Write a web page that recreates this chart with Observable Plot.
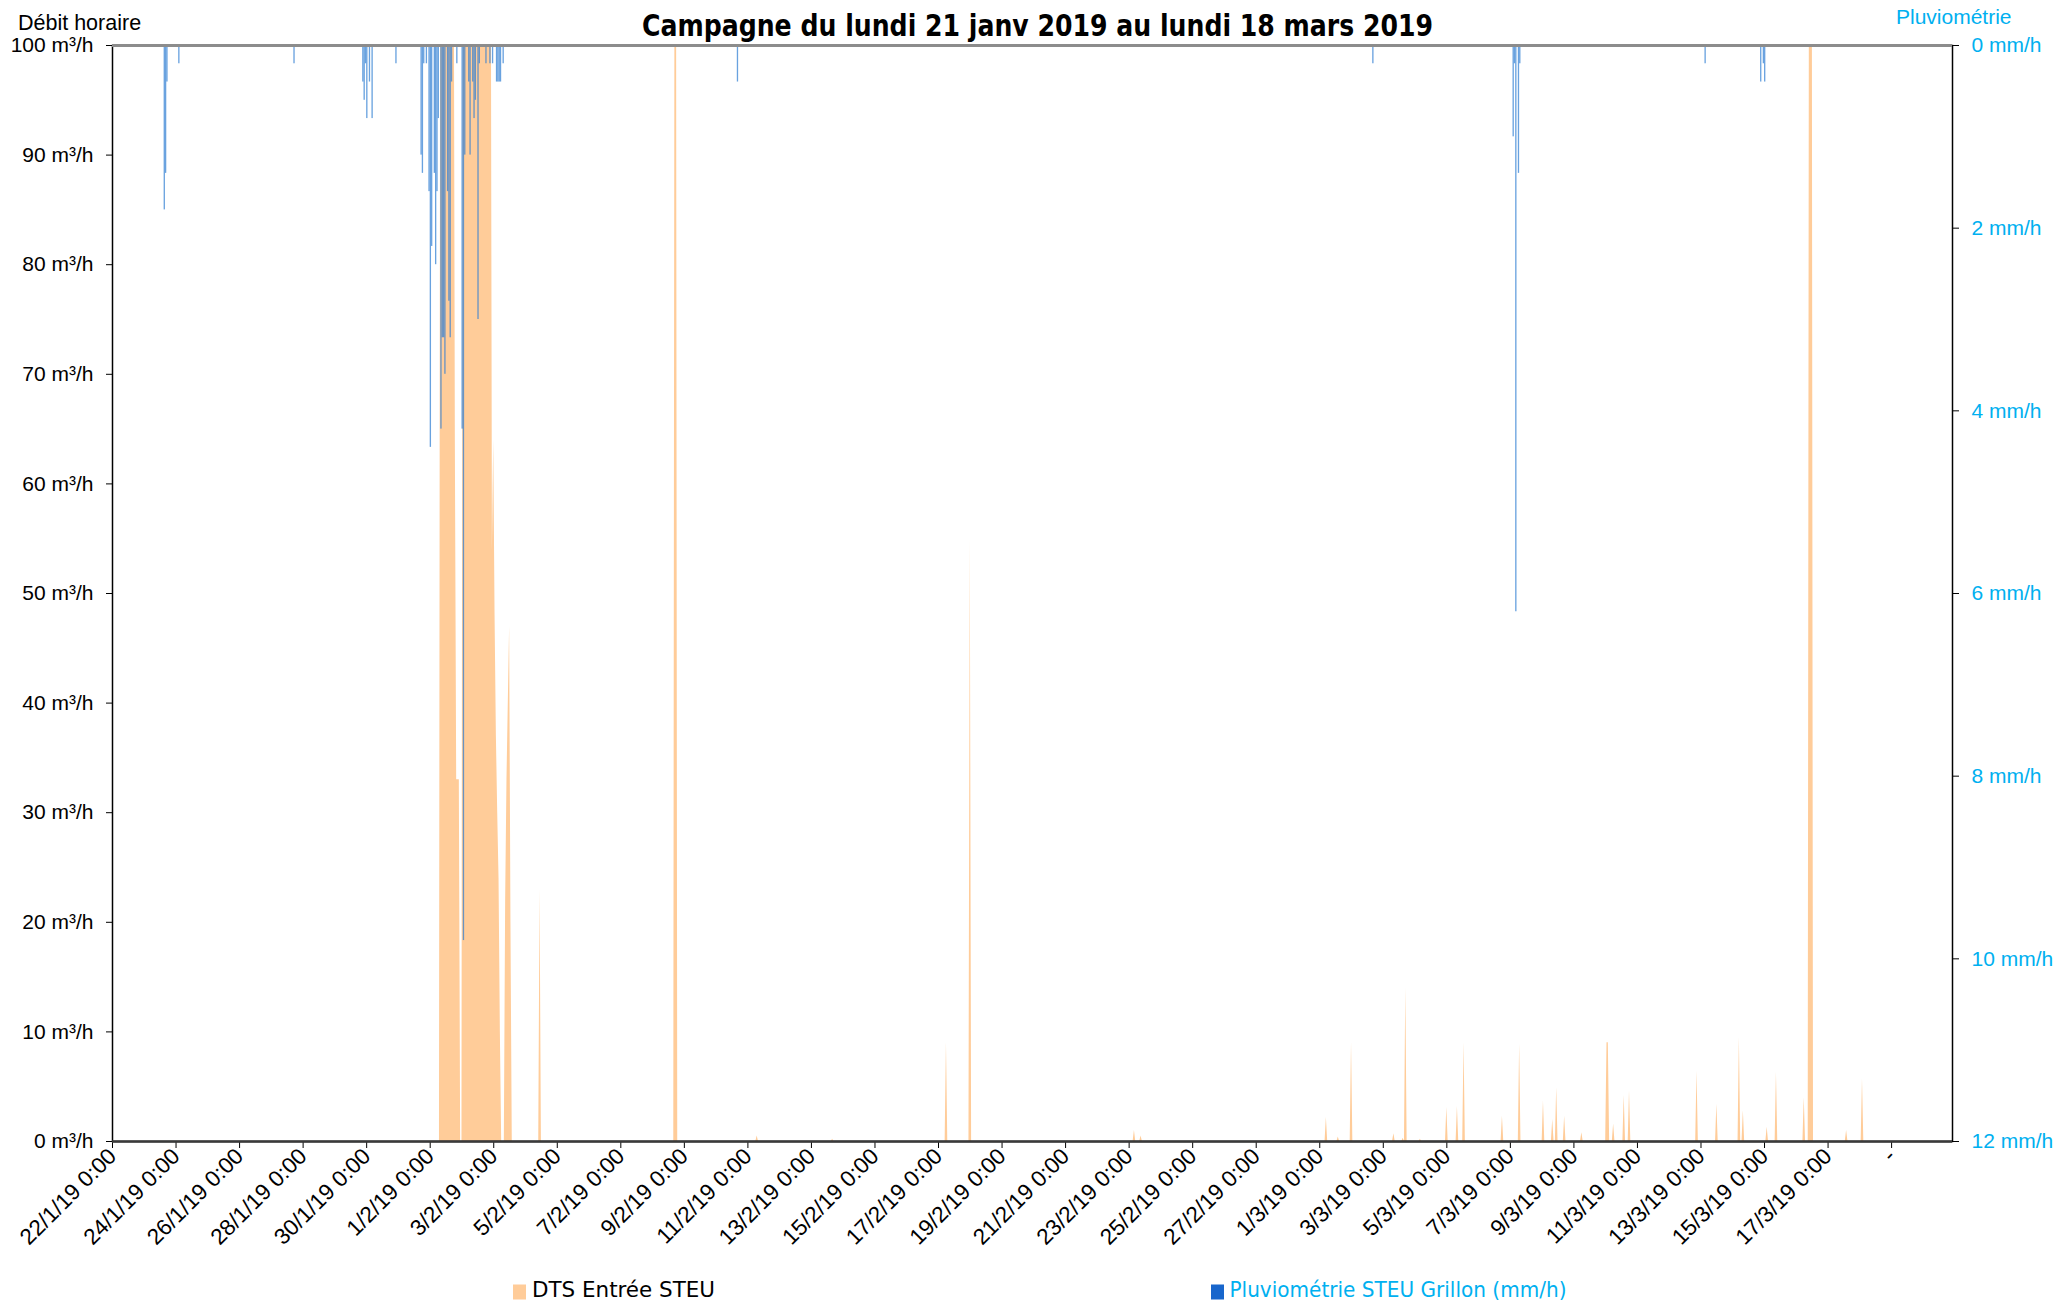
<!DOCTYPE html>
<html lang="fr">
<head>
<meta charset="utf-8">
<title>DTS Entrée STEU – Pluviométrie STEU Grillon</title>
<script src="https://cdn.jsdelivr.net/npm/d3@7"></script>
<script src="https://cdn.jsdelivr.net/npm/@observablehq/plot@0.6"></script>
<style>
  html, body { margin: 0; padding: 0; background: #fff; }
  #page { position: relative; width: 2058px; height: 1302px; overflow: hidden; font-family: "Liberation Sans", Arial, sans-serif; }
  #page .layer { position: absolute; left: 0; }
  #header { top: 0; z-index: 3; overflow: visible; }
  #chart { top: 34px; width: 2058px; height: 1228px; }
  #chart svg { position: absolute; left: 0; top: 0; }
  #legend { top: 1262px; }
</style>
</head>
<body>
<div id="page">
  <svg id="header" class="layer" width="2058" height="46">
    <text x="18" y="29.5" font-size="21.5" font-family="'Liberation Sans', Arial, sans-serif" fill="#000">Débit horaire</text>
    <text x="1037.5" y="36" text-anchor="middle" font-weight="bold" font-size="31"
          font-family="'Liberation Sans Narrow', 'DejaVu Sans Condensed', 'Liberation Sans', sans-serif"
          textLength="791" lengthAdjust="spacingAndGlyphs" fill="#000">Campagne du lundi 21 janv 2019 au lundi 18 mars 2019</text>
    <text x="1896" y="24" font-size="21" font-family="'Liberation Sans', Arial, sans-serif" fill="#00B0F0">Pluviométrie</text>
  </svg>
  <div id="chart" class="layer"></div>
  <svg id="legend" class="layer" width="2058" height="40">
    <rect x="513" y="22.5" width="13" height="15" fill="#FFCC99"></rect>
    <text x="532" y="34.5" font-size="22" font-family="'Liberation Sans Narrow', 'DejaVu Sans Condensed', 'Liberation Sans', sans-serif"
          textLength="183" lengthAdjust="spacingAndGlyphs" fill="#000">DTS Entrée STEU</text>
    <rect x="1211" y="22.5" width="13" height="15" fill="#1866CC"></rect>
    <text x="1229.5" y="34.5" font-size="22" font-family="'Liberation Sans Narrow', 'DejaVu Sans Condensed', 'Liberation Sans', sans-serif"
          textLength="337" lengthAdjust="spacingAndGlyphs" fill="#00B0F0">Pluviométrie STEU Grillon (mm/h)</text>
  </svg>
</div>
<script>
// ---------------- DATA ----------------
const startISO = "2019-01-22T00:00:00Z";   // x-axis start
const endISO   = "2019-03-20T22:00:00Z";   // x-axis end

// DTS Entrée STEU – hourly flow (m³/h) : [hours since 22/1/19 0:00, value]
const flowFeb = [
  [0,0],[247,0],[248,120],[258,120],[259,64],[260,33],[262,33],[263,0],
  [264,0],[265,120],[286,120],[287,54],[288,64],[289,48],[290,37],[291,30],[292,24],[293,10],[294,0],
  [296,0],[297,22],[298,33],[299,40],[300,47],[301,20],[302,0],
  [322,0],[323,23],[324,0],
  [424,0],[425,120],[426,120],[427,0],
  [486,0],[487,0.5],[488,0],
  [543,0],[544,0.2],[545,0],
  [629,0],[630,9],[631,0],
  [647,0],[648,55],[649,0],
  [771,0],[772,1],[773,0],[776,0],[777,0.5],[778,0]
];
const flowMar = [
  [916,0],[917,2.2],[918,0],[925,0],[926,0.4],[927,0],[935,0],[936,9],[937,0],
  [967,0],[968,0.7],[969,0],[974,0],[975,0.3],[976,0],[977,14],[978,0],[987,0],[988,0.2],[989,0],
  [1007,0],[1008,3.1],[1009,0],[1015,0],[1016,3.2],[1017,0],[1020,0],[1021,9],[1022,0],
  [1049,0],[1050,2.3],[1051,0],[1062,0],[1063,8.9],[1064,0],
  [1080,0],[1081,3.7],[1082,0],[1087,0],[1088,2],[1089,0],[1090,0],[1091,4.9],[1092,0],[1096,0],[1097,2.3],[1098,0],
  [1109,0],[1110,0.8],[1111,0],[1128,0],[1129,9],[1130,9],[1131,0],[1133,0],[1134,1.6],[1135,0],
  [1141,0],[1142,4.2],[1143,0],[1145,0],[1146,4.6],[1147,0],
  [1196,0],[1197,6.4],[1198,0],[1211,0],[1212,3.4],[1213,0],[1228,0],[1229,9.5],[1230,0],[1231,0],[1232,2.8],[1233,0],
  [1249,0],[1250,1.3],[1251,0],[1256,0],[1257,6.3],[1258,0],[1277,0],[1278,4],[1279,0],
  [1281,0],[1282,120],[1283,120],[1284,120],[1285,0],
  [1309,0],[1310,1],[1311,0],[1321,0],[1322,5.7],[1323,0],[1340,0]
];

// Pluviométrie STEU Grillon (mm/h) : [hours since 22/1/19 0:00, value]
const rainJanFeb = [
  [39,1.8],[40,1.4],[41,0.4],[50,0.2],[137,0.2],[189,0.4],[190,0.6],[191,0.2],[192,0.8],[194,0.4],[196,0.8],[214,0.2],
  [233,1.2],[234,1.4],[235,0.2],[237,0.2],[239,1.6],[240,4.4],[241,2.2],[243,1.4],[244,2.4],[245,1.6],[246,0.8],
  [248,4.2],[249,3.2],[250,3.2],[251,3.6],[253,1.6],[254,2.8],[255,3.2],[256,0.4],[260,0.2],
  [264,4.2],[265,9.8],[266,1.2],[269,0.4],[270,1.2],[272,0.4],[273,0.8],[274,0.6],[276,3.0],[277,0.2],
  [282,0.2],[285,0.2],[287,0.2],[290,0.4],[291,0.4],[292,0.4],[293,0.4],[295,0.2],[472,0.4]
];
const rainMar = [
  [952,0.2],[1058,1.0],[1059,0.2],[1060,6.2],[1062,1.4],[1063,0.2],[1203,0.2],[1245,0.4],[1247,0.2],[1248,0.4]
];

// Axis ticks
const flowTicks = [0,10,20,30,40,50,60,70,80,90,100];
const rainTicks = [0,2,4,6,8,10,12];
const xTickDates = ["2019-01-22","2019-01-24","2019-01-26","2019-01-28","2019-01-30","2019-02-01","2019-02-03",
  "2019-02-05","2019-02-07","2019-02-09","2019-02-11","2019-02-13","2019-02-15","2019-02-17","2019-02-19",
  "2019-02-21","2019-02-23","2019-02-25","2019-02-27","2019-03-01","2019-03-03","2019-03-05","2019-03-07",
  "2019-03-09","2019-03-11","2019-03-13","2019-03-15","2019-03-17","2019-03-19"];
const xTickLabels = ["22/1/19 0:00","24/1/19 0:00","26/1/19 0:00","28/1/19 0:00","30/1/19 0:00","1/2/19 0:00","3/2/19 0:00",
  "5/2/19 0:00","7/2/19 0:00","9/2/19 0:00","11/2/19 0:00","13/2/19 0:00","15/2/19 0:00","17/2/19 0:00","19/2/19 0:00",
  "21/2/19 0:00","23/2/19 0:00","25/2/19 0:00","27/2/19 0:00","1/3/19 0:00","3/3/19 0:00","5/3/19 0:00","7/3/19 0:00",
  "9/3/19 0:00","11/3/19 0:00","13/3/19 0:00","15/3/19 0:00","17/3/19 0:00","-"];

// ---------------- BUILD ----------------
const t0 = Date.parse(startISO);
const hourToDate = h => new Date(t0 + h * 3600e3);
const flow = flowFeb.concat(flowMar).map(([h, v]) => ({t: hourToDate(h), v}));
const rain = rainJanFeb.concat(rainMar).map(([h, v]) => ({t: hourToDate(h), t2: hourToDate(h + 1), v}));
const xTicks = xTickDates.map(s => new Date(s + "T00:00:00Z"));
const labelOf = new Map(xTicks.map((d, i) => [+d, xTickLabels[i]]));

const common = {
  width: 2058, height: 1228,
  marginTop: 11, marginBottom: 121, marginLeft: 112, marginRight: 106,
  style: {background: "transparent", fontFamily: "'Liberation Sans', Arial, sans-serif", fontSize: "20px", color: "#000"}
};
const xDomain = [new Date(startISO), new Date(endISO)];

const flowPlot = Plot.plot({
  ...common,
  x: {type: "utc", domain: xDomain},
  y: {domain: [0, 100]},
  marks: [
    Plot.areaY(flow, {x: "t", y: "v", fill: "#FFCC99", clip: true}),
    Plot.axisY({ticks: flowTicks, tickFormat: d => `${d} m³/h`, tickSize: 6, tickPadding: 13, label: null, fontSize: 21}),
    Plot.axisX({ticks: xTicks, tickFormat: d => labelOf.get(+d), tickRotate: -45, tickSize: 7, tickPadding: 4, label: null, fontSize: 22.5}),
    Plot.frame({stroke: "#000", strokeWidth: 1.5}),
    Plot.ruleY([0], {stroke: "#3a3a3a", strokeWidth: 2.5})
  ]
});

const rainPlot = Plot.plot({
  ...common,
  x: {type: "utc", domain: xDomain, axis: null},
  y: {domain: [0, 12], reverse: true},
  marks: [
    Plot.rectY(rain, {x1: "t", x2: "t2", y1: 0, y2: "v", fill: "#2F7ED3", fillOpacity: 0.72}),
    Plot.ruleY([0], {stroke: "#8c8c8c", strokeWidth: 3}),
    Plot.axisY({anchor: "right", ticks: rainTicks, tickFormat: d => `${d} mm/h`, tickSize: 6, tickPadding: 13,
                label: null, color: "#00B0F0", fontSize: 21})
  ]
});

const chart = document.getElementById("chart");
chart.appendChild(flowPlot);
chart.appendChild(rainPlot);
d3.select(rainPlot).selectAll('g[aria-label="y-axis tick"]').attr("stroke", "#000");
</script>
</body>
</html>
